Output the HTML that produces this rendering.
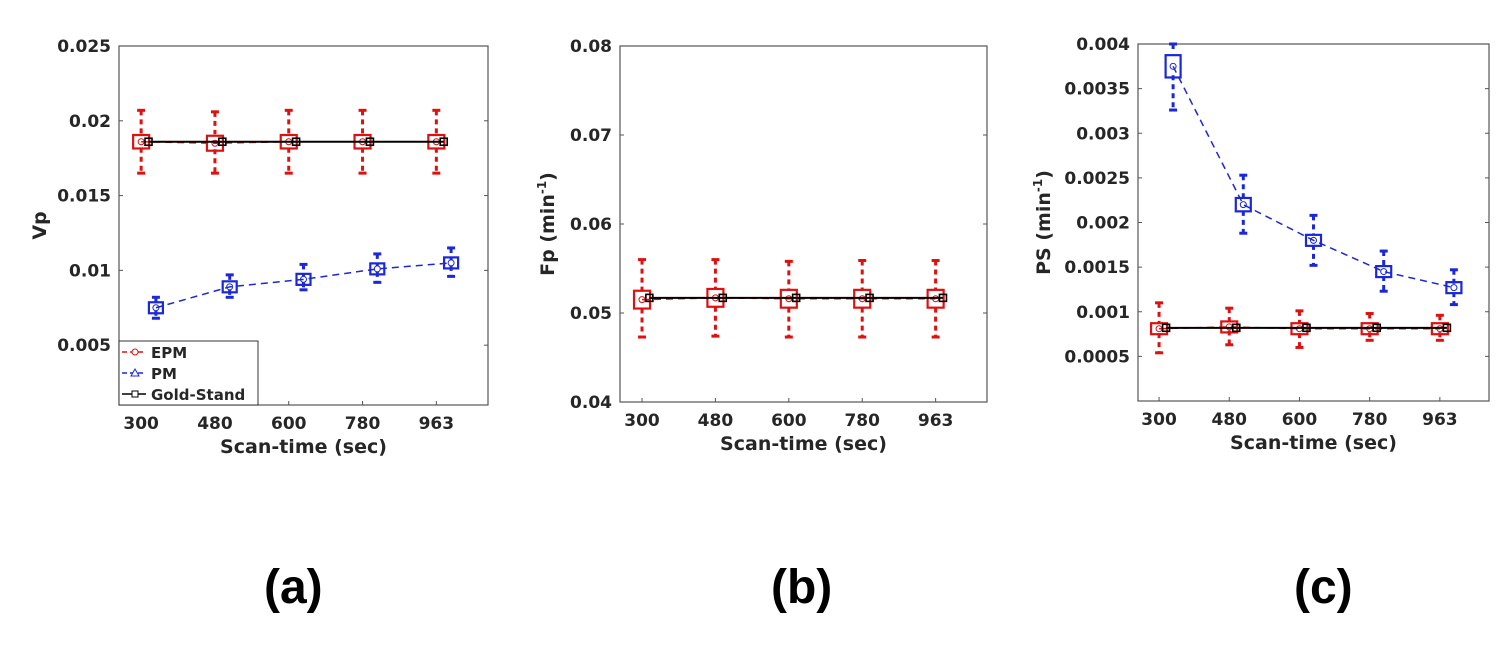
<!DOCTYPE html>
<html><head><meta charset="utf-8"><style>
body{margin:0;background:#fff;width:1512px;height:654px;overflow:hidden;font-family:"Liberation Sans",sans-serif}
svg text{font-family:"DejaVu Sans","Liberation Sans",sans-serif;font-weight:bold;fill:#262626}
.lab{position:absolute;font:bold 48px "Liberation Sans",sans-serif;color:#000}
</style></head><body>
<svg id="chart" width="1512" height="654"></svg>
<div class="lab" style="left:264px;top:560px">(a)</div>
<div class="lab" style="left:771px;top:560px">(b)</div>
<div class="lab" style="left:1294px;top:560px">(c)</div>
<script>
const categories=["300","480","600","780","963"];
// Vp
const vpEpmMed=[0.0186,0.0185,0.0186,0.0186,0.0186];
const vpEpmQ1=[0.0182,0.0181,0.0182,0.0182,0.0182];
const vpEpmQ3=[0.0191,0.0191,0.0191,0.0191,0.0191];
const vpEpmLo=[0.0165,0.0165,0.0165,0.0165,0.0165];
const vpEpmHi=[0.0207,0.0206,0.0207,0.0207,0.0207];
const vpPmMed=[0.0075,0.0089,0.0094,0.0101,0.0105];
const vpPmQ1=[0.0073,0.0087,0.0092,0.0099,0.0103];
const vpPmQ3=[0.0077,0.0091,0.0096,0.0103,0.0107];
const vpPmLo=[0.0068,0.0082,0.0087,0.0092,0.0096];
const vpPmHi=[0.0082,0.0097,0.0104,0.0111,0.0115];
const vpGold=[0.0186,0.0186,0.0186,0.0186,0.0186];
const vpTicks=[0.005,0.01,0.015,0.02,0.025];
const vpTickLabels=["0.005","0.01","0.015","0.02","0.025"];
// Fp
const fpEpmMed=[0.0515,0.0517,0.0516,0.0516,0.0516];
const fpEpmQ1=[0.0505,0.0507,0.0506,0.0506,0.0506];
const fpEpmQ3=[0.0525,0.0527,0.0526,0.0526,0.0526];
const fpEpmLo=[0.0473,0.0474,0.0473,0.0473,0.0473];
const fpEpmHi=[0.0560,0.0560,0.0558,0.0559,0.0559];
const fpGold=[0.0517,0.0517,0.0517,0.0517,0.0517];
const fpTicks=[0.04,0.05,0.06,0.07,0.08];
const fpTickLabels=["0.04","0.05","0.06","0.07","0.08"];
// PS
const psEpmMed=[0.00081,0.00083,0.00081,0.00081,0.00081];
const psEpmQ1=[0.00076,0.00079,0.00076,0.00077,0.00077];
const psEpmQ3=[0.00087,0.00088,0.00086,0.00086,0.00086];
const psEpmLo=[0.00054,0.00063,0.00060,0.00068,0.00068];
const psEpmHi=[0.00110,0.00104,0.00101,0.00098,0.00096];
const psPmMed=[0.00375,0.0022,0.0018,0.00145,0.00127];
const psPmQ1=[0.00365,0.00213,0.00175,0.0014,0.00122];
const psPmQ3=[0.0039,0.00228,0.00187,0.0015,0.00131];
const psPmLo=[0.00326,0.00188,0.00152,0.00123,0.00108];
const psPmHi=[0.0040,0.00253,0.00208,0.00168,0.00147];
const psGold=[0.00082,0.00082,0.00082,0.00082,0.00082];
const psTicks=[0.0005,0.001,0.0015,0.002,0.0025,0.003,0.0035,0.004];
const psTickLabels=["0.0005","0.001","0.0015","0.002","0.0025","0.003","0.0035","0.004"];

const svg=document.getElementById('chart');
const NS='http://www.w3.org/2000/svg';
function mk(tag,attrs,parent){const e=document.createElementNS(NS,tag);for(const k in attrs)e.setAttribute(k,attrs[k]);(parent||svg).appendChild(e);return e;}

function panel(id,L,R,T,B,ymin,ymax,ticks,tickLabels,ylabel,sup,series){
  const g=mk('g',{});
  
  
  const xs=v=>L+(v-0.7)/5*(R-L);
  const ys=v=>B-(v-ymin)/(ymax-ymin)*(B-T);
  const frame=mk('rect',{x:L,y:T,width:R-L,height:B-T,fill:'none',stroke:'#555','stroke-width':1.2},g);
  
  
  ticks.forEach((t,i)=>{
    const y=ys(t);
    mk('line',{x1:L,x2:L+4,y1:y,y2:y,stroke:'#555'},g);
    mk('line',{x1:R,x2:R-4,y1:y,y2:y,stroke:'#555'},g);
    const tx=mk('text',{x:L-8,y:y+6,'text-anchor':'end','font-size':17},g);
    tx.textContent=tickLabels[i];
    
    
  });
  categories.forEach((c,i)=>{
    const x=xs(i+1);
    mk('line',{x1:x,x2:x,y1:B,y2:B-4,stroke:'#555'},g);
    const tx=mk('text',{x:x,y:B+24,'text-anchor':'middle','font-size':17},g);
    tx.textContent=c;
    
    
  });
  const xl=mk('text',{x:(L+R)/2,y:B+48,'text-anchor':'middle','font-size':19},g);
  xl.textContent='Scan-time (sec)';
  
  
  const cy=(T+B)/2;
  const yl=mk('text',{x:0,y:0,'text-anchor':'middle','font-size':19,transform:`translate(${L-(id==='vp'?73:(id==='fp'?66:88))},${cy}) rotate(-90)`},g);
  yl.textContent=ylabel;
  if(sup){const t1=mk('tspan',{'font-size':12,dy:-8},yl);t1.textContent='-1';const t2=mk('tspan',{dy:8},yl);t2.textContent=')';}
  
  
  const clip='clip-'+id;
  const cp=mk('clipPath',{id:clip},g);mk('rect',{x:L,y:T-2,width:R-L,height:B-T+2},cp);
  const pg=mk('g',{'clip-path':`url(#${clip})`},g);
  series.forEach(s=>{
    const sg=mk('g',{},pg);
    
    
    const pts=s.med.map((v,i)=>xs(i+1+s.off)+','+ys(v)).join(' ');
    mk('polyline',{points:pts,fill:'none',stroke:s.col,'stroke-width':s.dash?1.5:2,'stroke-dasharray':s.dash?'7,5':'none'},sg);
    s.med.forEach((v,i)=>{
      const x=xs(i+1+s.off);
      if(s.q1){
        const w=s.bw;
        const da='5,4';
        mk('line',{x1:x,x2:x,y1:ys(s.hi[i]),y2:ys(s.q3[i]),stroke:s.col,'stroke-width':3,'stroke-dasharray':da},sg);
        mk('line',{x1:x,x2:x,y1:ys(s.q1[i]),y2:ys(s.lo[i]),stroke:s.col,'stroke-width':3,'stroke-dasharray':da},sg);
        mk('line',{x1:x-4,x2:x+4,y1:ys(s.hi[i]),y2:ys(s.hi[i]),stroke:s.col,'stroke-width':3},sg);
        mk('line',{x1:x-4,x2:x+4,y1:ys(s.lo[i]),y2:ys(s.lo[i]),stroke:s.col,'stroke-width':3},sg);
        const h=Math.max(ys(s.q1[i])-ys(s.q3[i]),11);
        const b=mk('rect',{x:x-w/2,y:ys(s.med[i])-h/2,width:w,height:h,fill:'none',stroke:s.col,'stroke-width':2.2},sg);
        
        
        mk('circle',{cx:x,cy:ys(v),r:3,fill:'none',stroke:s.col},sg);
      } else {
        const m=mk('rect',{x:x-3.5,y:ys(v)-3.5,width:7,height:7,fill:'none',stroke:'#000','stroke-width':1.6},sg);
        
        
      }
    });
  });
  return g;
}
panel('vp',119,488,46,405,0.001,0.025,vpTicks,vpTickLabels,'Vp',false,[
 {name:'epm',col:'#e01010',off:0,dash:true,bw:16,med:vpEpmMed,q1:vpEpmQ1,q3:vpEpmQ3,lo:vpEpmLo,hi:vpEpmHi},
 {name:'pm',col:'#1a28d8',off:0.2,dash:true,bw:14,med:vpPmMed,q1:vpPmQ1,q3:vpPmQ3,lo:vpPmLo,hi:vpPmHi},
 {name:'gold',col:'#000',off:0.1,dash:false,med:vpGold}]);
panel('fp',620,987,46,402,0.04,0.08,fpTicks,fpTickLabels,'Fp (min',true,[
 {name:'epm',col:'#e01010',off:0,dash:true,bw:16,med:fpEpmMed,q1:fpEpmQ1,q3:fpEpmQ3,lo:fpEpmLo,hi:fpEpmHi},
 {name:'gold',col:'#000',off:0.1,dash:false,med:fpGold}]);
panel('ps',1138,1489,44,401,0,0.004,psTicks,psTickLabels,'PS (min',true,[
 {name:'epm',col:'#e01010',off:0,dash:true,bw:16,med:psEpmMed,q1:psEpmQ1,q3:psEpmQ3,lo:psEpmLo,hi:psEpmHi},
 {name:'pm',col:'#1a28d8',off:0.2,dash:true,bw:15,med:psPmMed,q1:psPmQ1,q3:psPmQ3,lo:psPmLo,hi:psPmHi},
 {name:'gold',col:'#000',off:0.1,dash:false,med:psGold}]);
// legend
const lg=mk('g',{});


mk('rect',{x:119,y:341,width:139,height:64,fill:'#fff',stroke:'#333','stroke-width':1},lg);
const leg=[['EPM','#e01010','5,3'],['PM','#1a28d8','5,3'],['Gold-Stand','#000','none']];
leg.forEach((l,i)=>{
  const y=352+i*21;
  const e=mk('g',{},lg);
  
  
  mk('line',{x1:122,x2:146,y1:y,y2:y,stroke:l[1],'stroke-width':1.5,'stroke-dasharray':l[2]},e);
  if(i===0)mk('circle',{cx:135,cy:y,r:3,fill:'#fff',stroke:l[1]},e);
  if(i===1)mk('path',{d:`M131 ${y+3} L135 ${y-4} L139 ${y+3} Z`,fill:'#fff',stroke:l[1]},e);
  if(i===2)mk('rect',{x:132,y:y-3,width:6,height:6,fill:'#fff',stroke:l[1]},e);
  const t=mk('text',{x:151,y:y+6,'font-size':15},e);t.textContent=l[0];
});
</script>
</body></html>
